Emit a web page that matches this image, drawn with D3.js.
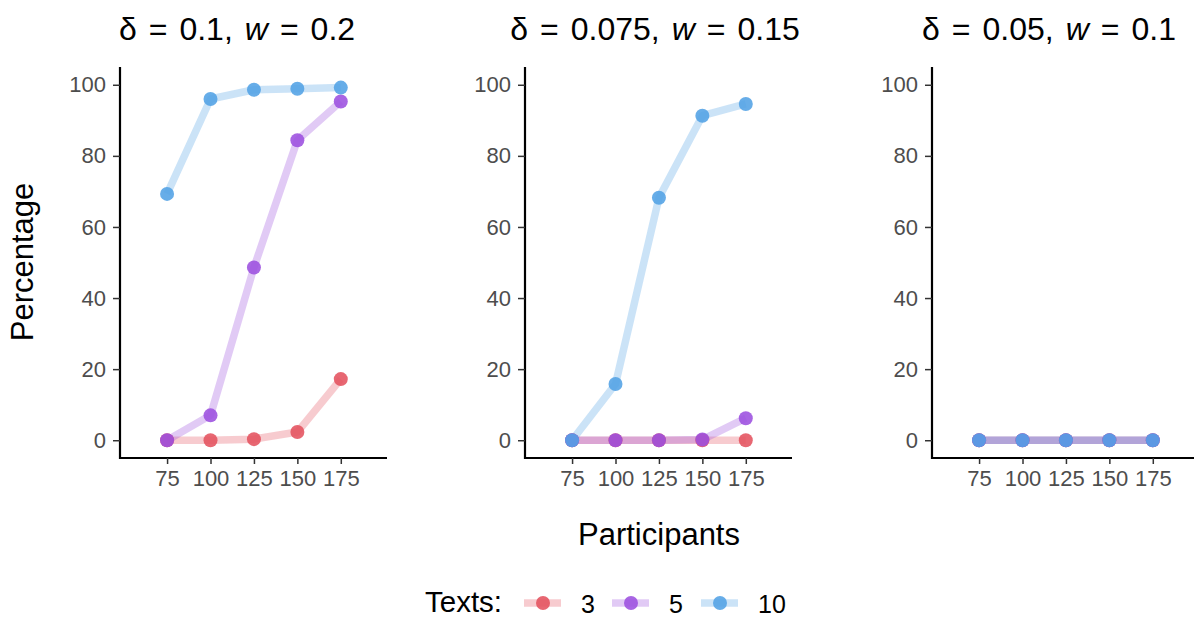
<!DOCTYPE html>
<html>
<head>
<meta charset="utf-8">
<script src="https://cdn.jsdelivr.net/npm/d3@7"></script>
<style>
  body { margin: 0; background: #fff; }
  svg { font-family: "Liberation Sans", Arial, sans-serif; }
</style>
</head>
<body>
<svg id="chart" width="1194" height="617"></svg>
<script>
const participants = [75, 100, 125, 150, 175];
const textCounts = ["3", "5", "10"];
const seriesColors = ["#e4525f", "#9c50df", "#52a2e5"];

// one entry per panel, values per text count
const panelTitles = [
  { delta: "0.1", w: "0.2" },
  { delta: "0.075", w: "0.15" },
  { delta: "0.05", w: "0.1" }
];
const panel1 = [
  [0, 0, 0.3, 2.3, 17.2],
  [0, 7, 48.6, 84.4, 95.3],
  [69.3, 96, 98.6, 98.9, 99.2]
];
const panel2 = [
  [0, 0, 0, 0, 0],
  [0, 0, 0, 0.2, 6.2],
  [0, 15.8, 68.2, 91.3, 94.6]
];
const panel3 = [
  [0, 0, 0, 0, 0],
  [0, 0, 0, 0, 0],
  [0, 0, 0, 0, 0]
];
const panelData = [panel1, panel2, panel3];
const yTicks = [0, 20, 40, 60, 80, 100];

const svg = d3.select("#chart");
const panelLeft = [120, 525, 932];
const panelWidth = 267;
const plotTop = 67, plotBottom = 458;
const titleX = [237, 655, 1049];

const y = d3.scaleLinear().domain([-5, 105]).range([plotBottom, plotTop]);

panelData.forEach((series, p) => {
  const x = d3.scaleLinear().domain([47.9, 201.6]).range([panelLeft[p], panelLeft[p] + panelWidth]);
  const g = svg.append("g");

  const yAxis = g.append("g")
    .attr("transform", `translate(${panelLeft[p]},0)`)
    .call(d3.axisLeft(y).tickValues(yTicks).tickSize(7).tickPadding(7));
  const xAxis = g.append("g")
    .attr("transform", `translate(0,${plotBottom})`)
    .call(d3.axisBottom(x).tickValues(participants).tickSize(6).tickPadding(3));

  [yAxis, xAxis].forEach(a => {
    a.select(".domain").attr("stroke", "#000").attr("stroke-width", 2.2);
    a.selectAll(".tick line").attr("stroke", "#333").attr("stroke-width", 1.5);
    a.selectAll(".tick text").attr("fill", "#4d4d4d").style("font-size", "22px");
  });
  // extend axis lines to the corner like ggplot
  yAxis.select(".domain").attr("d", `M0,${plotTop}V${plotBottom + 1}`);
  xAxis.select(".domain").attr("d", `M${panelLeft[p] - 1},0H${panelLeft[p] + panelWidth}`);
  xAxis.selectAll(".tick text").attr("dy", "0.88em");

  const line = d3.line().x((d, i) => x(participants[i])).y(d => y(d));
  series.forEach((vals, s) => {
    g.append("path")
      .datum(vals)
      .attr("d", line)
      .attr("fill", "none")
      .attr("stroke", seriesColors[s])
      .attr("stroke-opacity", 0.3)
      .attr("stroke-width", 7.5)
      .attr("stroke-linejoin", "round");
  });
  series.forEach((vals, s) => {
    g.selectAll(null)
      .data(vals)
      .enter()
      .append("circle")
      .attr("cx", (d, i) => x(participants[i]))
      .attr("cy", d => y(d))
      .attr("r", 7)
      .attr("fill", seriesColors[s])
      .attr("fill-opacity", 0.88);
  });

  // plotmath style title: wider gaps round "="
  const t = svg.append("text")
    .attr("x", titleX[p])
    .attr("y", 40)
    .attr("text-anchor", "middle")
    .style("font-size", "32px")
    .attr("fill", "#000");
  t.append("tspan").text("δ");
  t.append("tspan").attr("dx", 12).text("=");
  t.append("tspan").attr("dx", 12).text(`${panelTitles[p].delta},`);
  t.append("tspan").attr("dx", 12).style("font-style", "italic").text("w");
  t.append("tspan").attr("dx", 12).text("=");
  t.append("tspan").attr("dx", 12).text(panelTitles[p].w);
});

// axis titles
svg.append("text")
  .attr("x", 659).attr("y", 545)
  .attr("text-anchor", "middle")
  .style("font-size", "31px")
  .text("Participants");
svg.append("text")
  .attr("transform", "translate(33,262) rotate(-90)")
  .attr("text-anchor", "middle")
  .style("font-size", "31px")
  .text("Percentage");

// legend
const legend = svg.append("g");
legend.append("text")
  .attr("x", 425).attr("y", 612)
  .style("font-size", "29.5px")
  .text("Texts:");
const keyX = [524, 612, 701];
textCounts.forEach((label, s) => {
  const k = legend.append("g").attr("transform", `translate(${keyX[s]},603)`);
  k.append("line")
    .attr("x1", 0).attr("x2", 37)
    .attr("stroke", seriesColors[s])
    .attr("stroke-opacity", 0.3)
    .attr("stroke-width", 7.5);
  k.append("circle")
    .attr("cx", 19).attr("r", 7)
    .attr("fill", seriesColors[s])
    .attr("fill-opacity", 0.88);
  k.append("text")
    .attr("x", 57).attr("y", 10)
    .style("font-size", "25px")
    .text(label);
});
</script>
</body>
</html>
